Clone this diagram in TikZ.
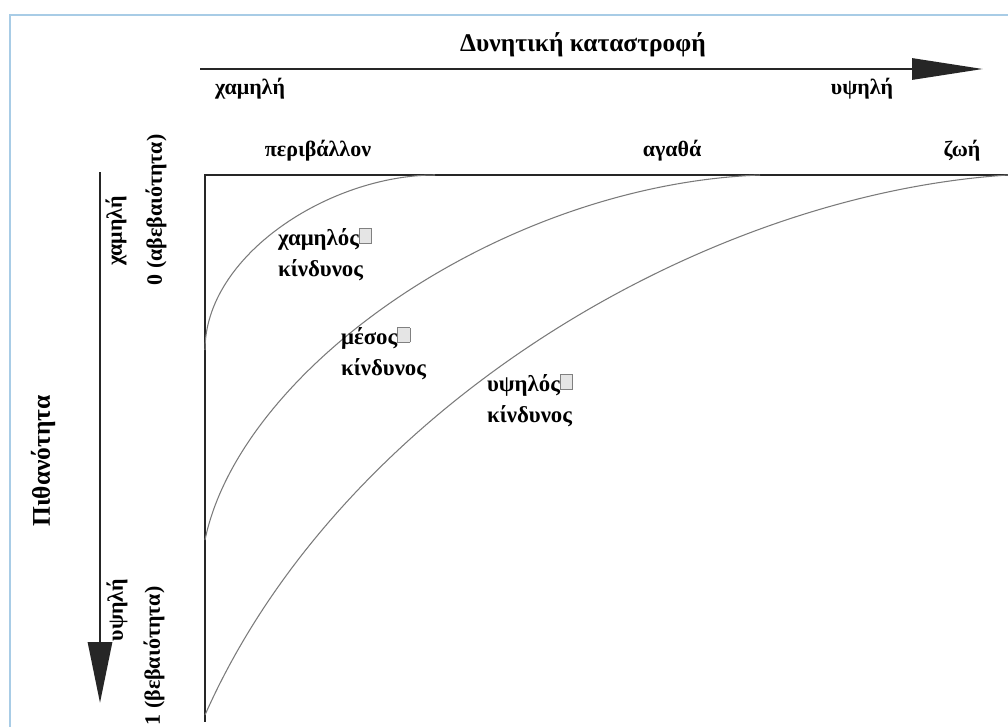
\documentclass[tikz,border=0pt]{standalone}
\usepackage{xcolor}
\definecolor{FrameBlue}{HTML}{A8CCE6}
\definecolor{CurveGray}{HTML}{7A7A7A}
\usepackage{fontspec}
\setmainfont{Liberation Serif}
\usepackage{tikz}
\usetikzlibrary{arrows.meta,positioning}
\newcommand{\glyphbox}{\setlength{\fboxsep}{0pt}\setlength{\fboxrule}{0.5pt}\raisebox{0.2ex}{\fcolorbox{gray}{black!10}{\rule{0pt}{8pt}\rule{6.5pt}{0pt}}}}

\begin{document}
\begin{tikzpicture}[x=0.02cm,y=-0.02cm,>=Latex,
lbl/.style={font=\bfseries\fontsize{12.5}{15}\selectfont,inner sep=1pt},
title/.style={font=\bfseries\fontsize{14.5}{17}\selectfont,inner sep=1pt},
risk/.style={font=\bfseries\fontsize{13}{18}\selectfont,align=left,inner sep=1pt,anchor=north west},
axis/.style={line width=1.7pt,draw=black!85},
curve/.style={draw=CurveGray,line width=0.6pt},
bigarrow/.style={line width=1.7pt,draw=black!85,fill=black!85}]
\useasboundingbox (0,0) rectangle (1008,727);
\fill[white] (0,0) rectangle (1008,727);
\draw[FrameBlue,line width=1.2pt] (1010,15) -- (10,15) -- (10,730);
% consequence axis
\coordinate (cstart) at (200,69);
\coordinate (cend) at (983,69);
\draw[bigarrow,-{Triangle[length=14.2mm,width=4.2mm]}] (cstart) -- (cend);
\node[title] (cons) at (583,45) {Δυνητική καταστροφή};
\node[lbl] (clow) at (250,89) {χαμηλή};
\node[lbl] (chigh) at (862,89) {υψηλή};
\node[lbl] (env) at (318,151) {περιβάλλον};
\node[lbl] (goods) at (672,151) {αγαθά};
\node[lbl] (life) at (962,151) {ζωή};
% probability axis
\coordinate (pstart) at (100,172);
\coordinate (pend) at (100,703);
\draw[bigarrow,-{Triangle[length=12.2mm,width=4.8mm]}] (pstart) -- (pend);
\node[title,rotate=90] (prob) at (43,461) {Πιθανότητα};
\node[lbl,rotate=90] (plow) at (116,231) {χαμηλή};
\node[lbl,rotate=90] (pzero) at (156,210) {0 (αβεβαιότητα)};
\node[lbl,rotate=90] (phigh) at (117,610) {υψηλή};
\node[lbl,rotate=90] (pone) at (154,656) {1 (βεβαιότητα)};
% frame of the chart
\coordinate (corner) at (205,175);
\coordinate (right) at (1008,175);
\coordinate (bottom) at (205,722);
\draw[axis] (right) -- (corner) -- (bottom);
% risk curves
\coordinate (a0) at (205,350);
\coordinate (a1) at (435,175);
\coordinate (b0) at (205,540);
\coordinate (b1) at (760,175);
\coordinate (c0) at (205,715);
\coordinate (c1) at (1008,175);
\draw[curve] (a0) .. controls (205,255) and (330,175) .. (a1);
\draw[curve] (b0) .. controls (240,370) and (500,185) .. (b1);
\draw[curve] (c0) .. controls (340,410) and (700,195) .. (c1);
\node[risk] (lowrisk) at (276,226) {χαμηλός\glyphbox\\κίνδυνος};
\node[risk] (midrisk) at (339,325) {μέσος\glyphbox\\κίνδυνος};
\node[risk] (highrisk) at (485,372) {υψηλός\glyphbox\\κίνδυνος};
\end{tikzpicture}
\end{document}
